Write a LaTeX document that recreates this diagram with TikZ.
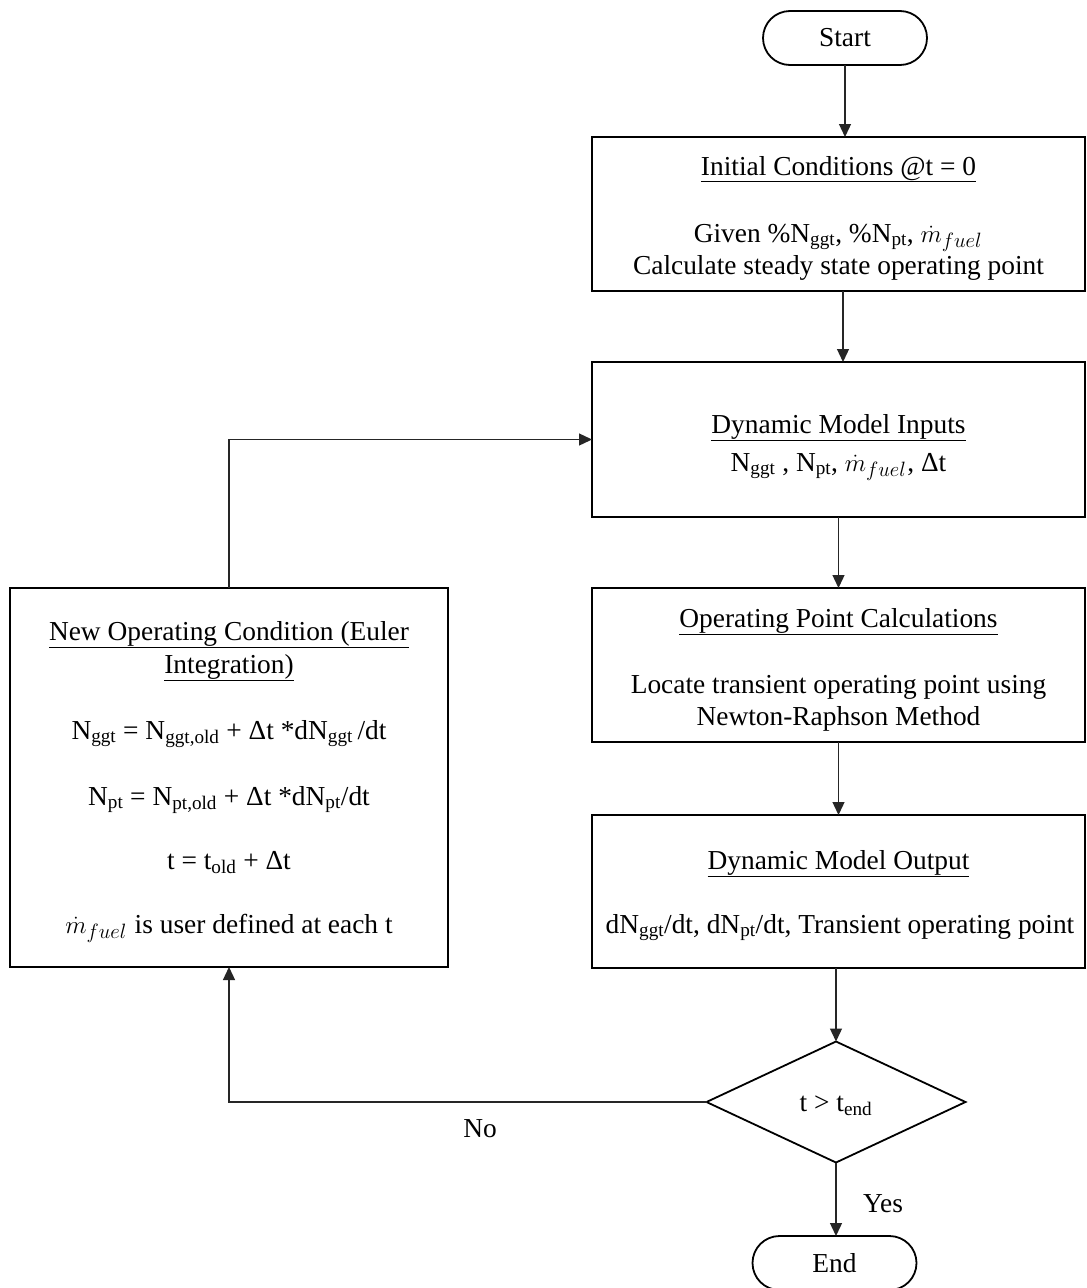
\documentclass[tikz,border=0pt]{standalone}
\usepackage{fontspec}
\setmainfont{Liberation Serif}
\usetikzlibrary{shapes.geometric,shapes.misc,arrows.meta}
\newcommand{\mfuel}{{\fontsize{31}{32}\selectfont$\dot{m}_{fuel}$}\kern1pt}
\begin{document}
\begin{tikzpicture}[x=1pt,y=-1pt,
  every node/.style={font=\fontsize{27.4}{32}\selectfont},
  box/.style={draw, line width=2.2pt, rectangle, inner sep=0pt, outer sep=0pt, anchor=north west},
  term/.style={draw, line width=1.8pt, rounded rectangle, minimum width=164pt, minimum height=54pt, inner sep=0pt, outer sep=0pt},
  dec/.style={draw, line width=1.8pt, diamond, minimum width=259pt, minimum height=121pt, inner sep=0pt, outer sep=0pt},
  txt/.style={anchor=base, inner sep=0pt},
  arr/.style={draw=black!85, line width=1.3pt, -{Triangle[length=13pt,width=12pt]}},
]
\useasboundingbox (0,0) rectangle (1087,1288);
\fill[white] (0,0) rectangle (1087,1288);
\begin{scope}
\clip (0,0) rectangle (1087,1288);
% shapes
\node[term] (start) at (845,38) {Start};
\node[box, minimum width=493pt, minimum height=154pt] (b1) at (592,137) {};
\node[box, minimum width=493pt, minimum height=155pt] (b2) at (592,362) {};
\node[box, minimum width=493pt, minimum height=154pt] (b3) at (592,588) {};
\node[box, minimum width=493pt, minimum height=153pt] (b4) at (592,815) {};
\node[box, minimum width=438pt, minimum height=379pt] (nb) at (10,588) {};
\node[dec] (dec) at (836,1102) {};
\node[term] (end) at (834.5,1263) {End};

% box texts
\node[txt] (b1a) at (838.5,175) {\underline{Initial Conditions @t = 0}};
\node[txt] (b1b) at (838.5,242) {Given \%N\textsubscript{ggt}, \%N\textsubscript{pt}, \mfuel};
\node[txt] (b1c) at (838.5,274) {Calculate steady state operating point};

\node[txt] (b2a) at (838.5,433) {\underline{Dynamic Model Inputs}};
\node[txt] (b2b) at (838.5,471) {N\textsubscript{ggt} , N\textsubscript{pt}, \mfuel, Δt};

\node[txt] (b3a) at (838.5,627) {\underline{Operating Point Calculations}};
\node[txt] (b3b) at (838.5,693) {Locate transient operating point using};
\node[txt] (b3c) at (838.5,725) {Newton-Raphson Method};

\node[txt] (b4a) at (838.5,869) {\underline{Dynamic Model Output}};
\node[txt] (b4b) at (840,933) {dN\textsubscript{ggt}/dt, dN\textsubscript{pt}/dt, Transient operating point};

\node[txt] (nba) at (229,640) {\underline{New Operating Condition (Euler}};
\node[txt] (nbb) at (229,673) {\underline{Integration)}};
\node[txt] (nbc) at (229,739) {N\textsubscript{ggt} = N\textsubscript{ggt,old} + Δt *dN\textsubscript{ggt}\,/dt};
\node[txt] (nbd) at (229,805) {N\textsubscript{pt} = N\textsubscript{pt,old} + Δt *dN\textsubscript{pt}/dt};
\node[txt] (nbe) at (229,869) {t = t\textsubscript{old} + Δt};
\node[txt] (nbf) at (229,933) {\mfuel\ is user defined at each t};

\node[txt] (dect) at (836,1111) {t > t\textsubscript{end}};

% connectors
\draw[arr] (start.south) -- (start.south |- b1.north);
\draw[arr] ([xshift=4.5pt]b1.south) -- ([xshift=4.5pt]b2.north);
\draw[arr] (b2.south) -- (b3.north);
\draw[arr] (b3.south) -- (b4.north);
\draw[arr] (dec.north |- b4.south) -- (dec.north);
\draw[arr] (dec.south) -- (dec.south |- end.north);
\draw[arr] (nb.north) |- (b2.west);
\draw[arr] (dec.west) -| (nb.south);

\node[txt] (no) at (480,1137) {No};
\node[txt] (yes) at (883,1212) {Yes};
\end{scope}
\end{tikzpicture}
\end{document}
